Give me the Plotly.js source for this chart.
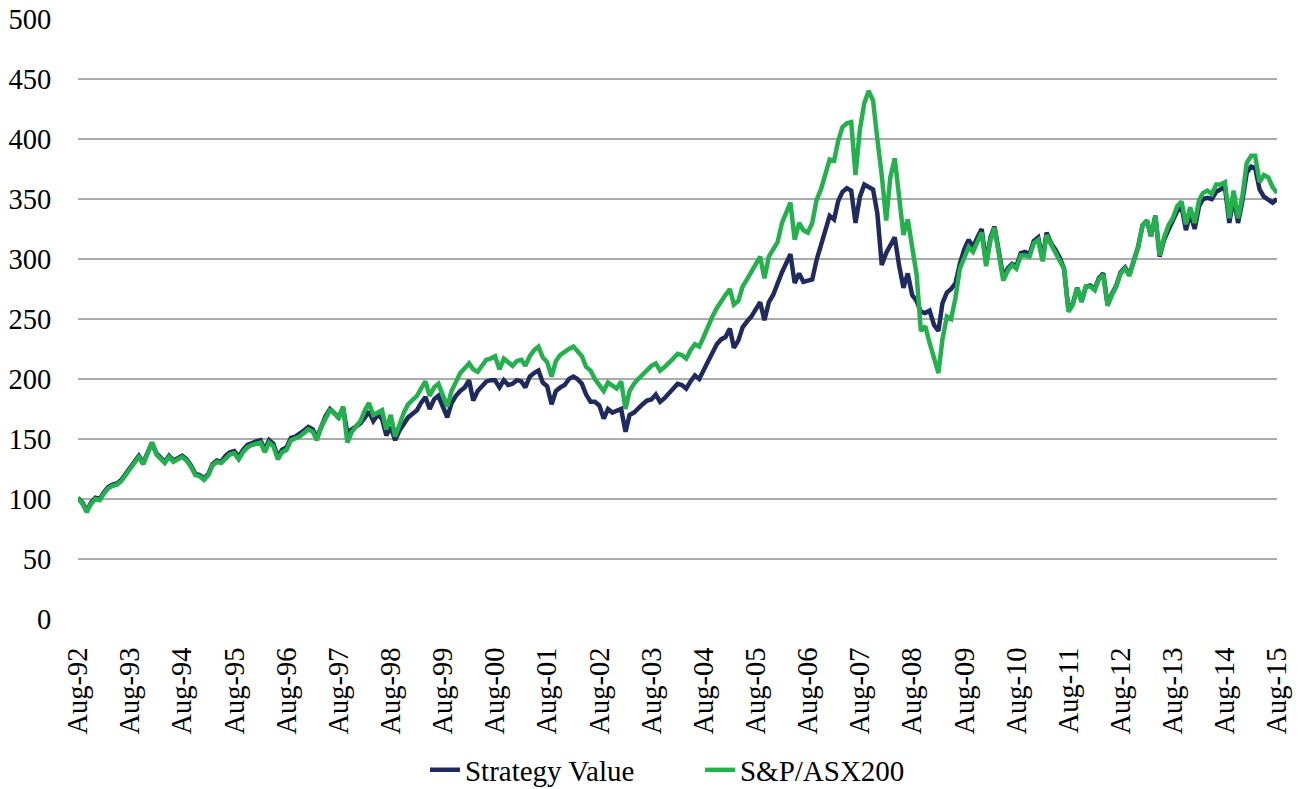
<!DOCTYPE html>
<html>
<head>
<meta charset="utf-8">
<script src="https://cdn.plot.ly/plotly-3.0.1.min.js"></script>
<style>
html,body{margin:0;padding:0;background:#ffffff;}
#chart{width:1304px;height:789px;}
</style>
</head>
<body>
<div id="chart"></div>
<script>
// Monthly observations, first value = Aug-1992, last value = Aug-2015
const startYear = 1992;
const startMonth = 8;

const strategyValue = [
101,97,90,97,101,100,106,110,112,113,116,121,
126,132,136,130,139,147,138,135,131,136,132,134,
136,133,128,121,120,117,121,129,132,131,136,139,
140,135,141,145,147,148,149,141,149,146,135,141,
143,151,152,154,157,160,158,151,161,169,175,172,
168,176,155,158,161,163,168,173,165,170,167,153,
160,149,157,163,168,171,174,180,185,175,183,186,
176,168,180,186,190,193,199,182,190,194,198,199,
199,193,199,195,196,199,198,193,202,205,207,197,
194,179,190,193,195,200,202,200,196,187,181,181,
178,167,175,172,173,175,156,170,172,176,179,182,
183,187,181,184,188,192,196,195,192,198,203,200,
207,214,220,229,233,235,242,226,232,243,248,252,
258,264,249,264,270,280,289,296,304,280,288,281,
282,283,299,312,322,336,333,348,356,359,357,330,
352,362,360,358,338,295,305,311,318,295,276,288,
270,265,256,255,257,245,240,263,272,275,280,296,
308,316,310,318,325,297,318,327,305,285,292,296,
294,305,306,304,315,318,300,322,313,308,301,292,
258,263,276,265,277,278,275,284,288,262,271,278,
289,293,287,298,310,328,332,319,336,302,316,324,
331,340,344,324,338,325,344,350,351,350,356,358,
360,330,352,330,348,372,377,376,358,352,350,347,
350
];

const asx200 = [
100.8,96,89,96,100,99,105,109,111,112,115,120,
125,131,135,129,138,147,137,134,130,135,131,133,
135,132,127,120,119,116,120,128,131,130,134,137,
138,133,139,143,145,146,147,139,147,144,133,139,
141,149,150,152,155,158,156,149,160,168,174,172,
167,177,147,156,160,165,174,180,170,172,174,158,
170,152,162,172,179,182,186,192,198,186,193,196,
186,177,190,198,205,209,213,208,206,211,216,217,
219,208,217,214,211,215,216,211,219,224,227,218,
214,202,215,220,223,225,227,223,219,210,207,200,
195,190,197,194,192,198,175,190,196,200,204,208,
211,213,207,210,213,217,221,220,217,224,229,227,
235,244,252,259,265,270,275,262,265,277,283,289,
296,302,284,302,308,314,330,338,347,316,330,324,
322,330,349,358,372,383,382,398,410,413,414,370,
408,430,440,432,400,370,332,368,384,350,320,333,
312,287,240,244,230,218,205,233,252,250,268,292,
302,310,306,315,322,294,316,326,302,282,290,295,
292,303,303,302,313,316,298,320,312,306,299,292,
256,262,276,264,277,277,274,283,287,261,270,277,
288,292,286,298,310,328,332,319,336,303,318,328,
334,344,348,329,343,330,349,355,357,354,362,362,
364,334,357,334,352,380,386,386,364,370,368,360,
355
];

const tickYears = [1992,1993,1994,1995,1996,1997,1998,1999,2000,2001,2002,2003,
                   2004,2005,2006,2007,2008,2009,2010,2011,2012,2013,2014,2015];
const tickMonthLabel = 'Aug';

const seriesNames = ['Strategy Value', 'S&P/ASX200'];
const seriesColors = ['#1F2A5E', '#22B14C'];

function monthDate(i) {
  const total = (startMonth - 1) + i;
  const y = startYear + Math.floor(total / 12);
  const m = (total % 12) + 1;
  return y + '-' + String(m).padStart(2, '0') + '-01';
}
const dates = strategyValue.map((_, i) => monthDate(i));

const tickVals = tickYears.map(y => y + '-08-01');
const tickText = tickYears.map(y => tickMonthLabel + '-' + String(y % 100).padStart(2, '0'));

const fontFamily = '"Liberation Serif", "Times New Roman", Times, serif';

const traces = [
  {x: dates, y: strategyValue, name: seriesNames[0], type: 'scatter', mode: 'lines',
   line: {color: seriesColors[0], width: 4.5}},
  {x: dates, y: asx200, name: seriesNames[1], type: 'scatter', mode: 'lines',
   line: {color: seriesColors[1], width: 4.5}}
];

const layout = {
  width: 1304, height: 789,
  margin: {l: 78, r: 27, t: 19, b: 170},
  paper_bgcolor: '#ffffff', plot_bgcolor: '#ffffff',
  font: {family: fontFamily, size: 28.5, color: '#000000'},
  showlegend: true,
  legend: {
    orientation: 'h',
    xref: 'container', yref: 'container',
    x: 0.3259, xanchor: 'left', y: 0.0241, yanchor: 'middle',
    font: {family: fontFamily, size: 29, color: '#000000'},
    entrywidth: 230, entrywidthmode: 'pixels', bgcolor: 'rgba(0,0,0,0)'
  },
  xaxis: {
    type: 'date',
    range: [dates[0], dates[dates.length - 1]],
    tickmode: 'array', tickvals: tickVals, ticktext: tickText,
    tickangle: -90,
    ticks: 'outside', ticklen: 16, tickcolor: 'rgba(0,0,0,0)',
    showgrid: false, zeroline: false, showline: false,
    automargin: false,
    tickfont: {family: fontFamily, size: 28.5, color: '#000000'}
  },
  yaxis: {
    range: [0, 500], dtick: 50, tick0: 0,
    showgrid: true, gridcolor: '#ABABAB', gridwidth: 1.6,
    zeroline: false, showline: false,
    automargin: false,
    ticks: 'outside', ticklen: 20, tickcolor: 'rgba(0,0,0,0)',
    tickfont: {family: fontFamily, size: 28.5, color: '#000000'}
  }
};

Plotly.newPlot('chart', traces, layout, {displayModeBar: false, staticPlot: true});
</script>
</body>
</html>
